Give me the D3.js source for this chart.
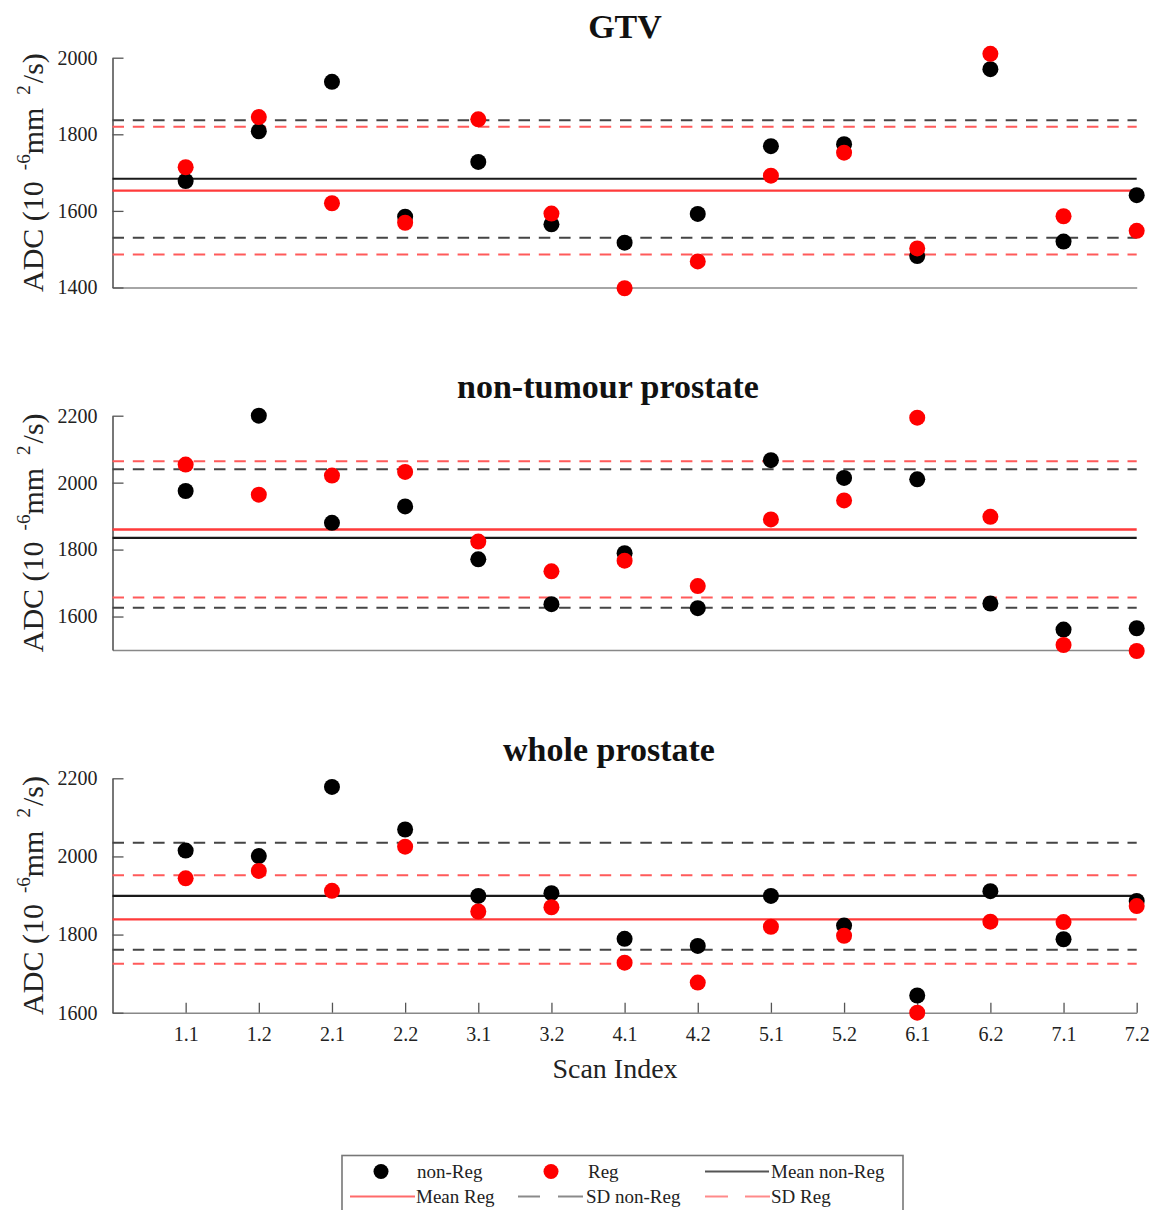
<!DOCTYPE html>
<html><head><meta charset="utf-8">
<script src="https://cdn.jsdelivr.net/npm/d3@7"></script>
<style>body{margin:0;background:#fff}text{font-family:"Liberation Serif","Times New Roman",serif}</style>
</head><body>
<svg id="c" width="1149" height="1210"></svg>
<script>
// ---------- data ----------
const scanLabels = ["1.1","1.2","2.1","2.2","3.1","3.2","4.1","4.2","5.1","5.2","6.1","6.2","7.1","7.2"];

const gtvNonReg = [1678,1808,1937,1585,1728,1565,1517,1592,1769,1774,1482,1970,1520,1641];
const gtvReg    = [1714,1845,1620,1569,1839,1593,1398,1468,1692,1752,1502,2010,1586,1548];
const gtvMeanSdNonReg = [1684,1837,1530]; // mean, mean+SD, mean-SD
const gtvMeanSdReg    = [1653,1820,1486];
const gtvTicks = [1400,1600,1800,2000];

const ntpNonReg = [1975,2200,1880,1929,1771,1637,1789,1625,2067,2014,2010,1639,1561,1565];
const ntpReg    = [2054,1964,2021,2032,1824,1735,1767,1691,1890,1947,2194,1898,1515,1497];
const ntpMeanSdNonReg = [1835,2040,1626];
const ntpMeanSdReg    = [1860,2064,1657];
const ntpTicks = [1600,1800,2000,2200];

const wpNonReg = [2015,2001,2178,2069,1899,1906,1789,1771,1899,1823,1644,1911,1788,1886];
const wpReg    = [1944,1963,1912,2025,1859,1870,1728,1677,1820,1797,1600,1833,1832,1873];
const wpMeanSdNonReg = [1899,2035,1761];
const wpMeanSdReg    = [1839,1952,1725];
const wpTicks = [1600,1800,2000,2200];

const panelTitles = ["GTV","non-tumour prostate","whole prostate"];
const xTitle = "Scan Index";
const legendLabels = ["non-Reg","Reg","Mean non-Reg","Mean Reg","SD non-Reg","SD Reg"];

// ---------- drawing ----------
const svg = d3.select("#c");
const x = d3.scaleLinear().domain([0, 14]).range([112.5, 1136.7]);

const C = {
  black: "#000", red: "#ff0000",
  meanBlack: "#1a1a1a", meanRed: "#ff3a3a",
  sdBlack: "#444", sdRed: "#ff5a5a", axis: "#555", base: "#888"
};

function panel(p) {
  const y = d3.scaleLinear().domain(p.domain).range(p.range);
  const g = svg.append("g");

  // bottom axis
  const xb = g.append("g").attr("transform", `translate(0,${p.range[0]})`)
    .call(p.showX
      ? d3.axisBottom(x).tickValues(d3.range(1, 15)).tickFormat(i => scanLabels[i - 1])
          .tickSizeInner(-10).tickSizeOuter(0).tickPadding(14)
      : d3.axisBottom(x).tickValues([]).tickSizeOuter(0));
  xb.select(".domain").attr("stroke", C.base).attr("stroke-width", 1.6);
  xb.selectAll(".tick line").attr("stroke", "#555").attr("stroke-width", 1.3);
  xb.selectAll(".tick text").attr("font-size", 20).attr("fill", "#222")
    .attr("font-family", "Liberation Serif");

  // left axis
  const yl = g.append("g").attr("transform", `translate(${x(0)},0)`)
    .call(d3.axisLeft(y).tickValues(p.ticks).tickFormat(d3.format("d"))
      .tickSizeInner(-11).tickSizeOuter(0).tickPadding(15));
  yl.select(".domain").attr("stroke", C.axis).attr("stroke-width", 1.6);
  yl.selectAll(".tick line").attr("stroke", C.axis).attr("stroke-width", 1.3);
  yl.selectAll(".tick text").attr("font-size", 20).attr("fill", "#222")
    .attr("font-family", "Liberation Serif");

  // reference lines
  const refs = [
    {v: p.sdNon[1], c: C.sdBlack, dash: "11.5,8.8", w: 2},
    {v: p.sdNon[2], c: C.sdBlack, dash: "11.5,8.8", w: 2},
    {v: p.sdReg[1], c: C.sdRed, dash: "11.5,8.8", w: 2},
    {v: p.sdReg[2], c: C.sdRed, dash: "11.5,8.8", w: 2},
    {v: p.sdNon[0], c: C.meanBlack, dash: null, w: 2.2},
    {v: p.sdReg[0], c: C.meanRed, dash: null, w: 2.4}
  ];
  g.selectAll("line.ref").data(refs).join("line").attr("class", "ref")
    .attr("x1", x(0)).attr("x2", x(14))
    .attr("y1", d => y(d.v)).attr("y2", d => y(d.v))
    .attr("stroke", d => d.c).attr("stroke-width", d => d.w)
    .attr("stroke-dasharray", d => d.dash);

  // points
  g.selectAll("circle.nr").data(p.nonReg).join("circle").attr("class", "nr")
    .attr("cx", (d, i) => x(i + 1)).attr("cy", d => y(d)).attr("r", 8).attr("fill", C.black);
  g.selectAll("circle.rg").data(p.reg).join("circle").attr("class", "rg")
    .attr("cx", (d, i) => x(i + 1)).attr("cy", d => y(d)).attr("r", 8).attr("fill", C.red);

  // title
  svg.append("text").attr("x", p.titleX).attr("y", p.titleY).attr("text-anchor", "middle")
    .attr("font-size", 34).attr("font-weight", "bold").attr("fill", "#111").text(p.title);

  // y axis title
  const cy = (p.range[0] + p.range[1]) / 2;
  const t = svg.append("text").attr("transform", `translate(43,${cy}) rotate(-90)`)
    .attr("text-anchor", "middle").attr("font-size", 30).attr("fill", "#222");
  t.append("tspan").text("ADC (10");
  t.append("tspan").attr("dx", 11).attr("dy", -13).attr("font-size", 19).text("-6");
  t.append("tspan").attr("dy", 13).text("mm");
  t.append("tspan").attr("dx", 13).attr("dy", -13).attr("font-size", 19).text("2");
  t.append("tspan").attr("dx", 2).attr("dy", 13).text("/s)");
}

panel({title: panelTitles[0], titleX: 625, titleY: 38, domain: [1400, 2000], range: [287.5, 57.7],
  ticks: gtvTicks, nonReg: gtvNonReg, reg: gtvReg, sdNon: gtvMeanSdNonReg, sdReg: gtvMeanSdReg, showX: false});
panel({title: panelTitles[1], titleX: 608, titleY: 398, domain: [1500, 2200], range: [650, 415.7],
  ticks: ntpTicks, nonReg: ntpNonReg, reg: ntpReg, sdNon: ntpMeanSdNonReg, sdReg: ntpMeanSdReg, showX: false});
panel({title: panelTitles[2], titleX: 609, titleY: 761, domain: [1600, 2200], range: [1012.7, 778.3],
  ticks: wpTicks, nonReg: wpNonReg, reg: wpReg, sdNon: wpMeanSdNonReg, sdReg: wpMeanSdReg, showX: true});

// x title
svg.append("text").attr("x", 615).attr("y", 1078).attr("text-anchor", "middle")
  .attr("font-size", 28).attr("fill", "#222").text(xTitle);

// legend
const lg = svg.append("g");
lg.append("rect").attr("x", 342).attr("y", 1155.5).attr("width", 561).attr("height", 70)
  .attr("fill", "#fff").attr("stroke", "#777").attr("stroke-width", 1.6);
const r1 = 1171.5, r2 = 1196.5;
const items = [
  {type: "dot", c: C.black, segs: [[381]], tx: 417, y: r1, label: legendLabels[0]},
  {type: "dot", c: C.red, segs: [[551]], tx: 588, y: r1, label: legendLabels[1]},
  {type: "line", c: "#555", segs: [[705, 769]], tx: 771, y: r1, label: legendLabels[2]},
  {type: "line", c: "#ff6a6a", segs: [[350, 415]], tx: 416, y: r2, label: legendLabels[3]},
  {type: "line", c: "#8a8a8a", segs: [[518, 540], [558, 583]], tx: 586, y: r2, label: legendLabels[4]},
  {type: "line", c: "#ff8a8a", segs: [[705, 728], [745, 770]], tx: 771, y: r2, label: legendLabels[5]}
];
items.forEach(it => {
  if (it.type === "dot") {
    lg.append("circle").attr("cx", it.segs[0][0]).attr("cy", it.y).attr("r", 7.5).attr("fill", it.c);
  } else {
    it.segs.forEach(s => lg.append("line").attr("x1", s[0]).attr("x2", s[1])
      .attr("y1", it.y).attr("y2", it.y).attr("stroke", it.c).attr("stroke-width", 2));
  }
  lg.append("text").attr("x", it.tx).attr("y", it.y + 6.5).attr("font-size", 19)
    .attr("fill", "#222").text(it.label);
});
</script>
</body></html>
